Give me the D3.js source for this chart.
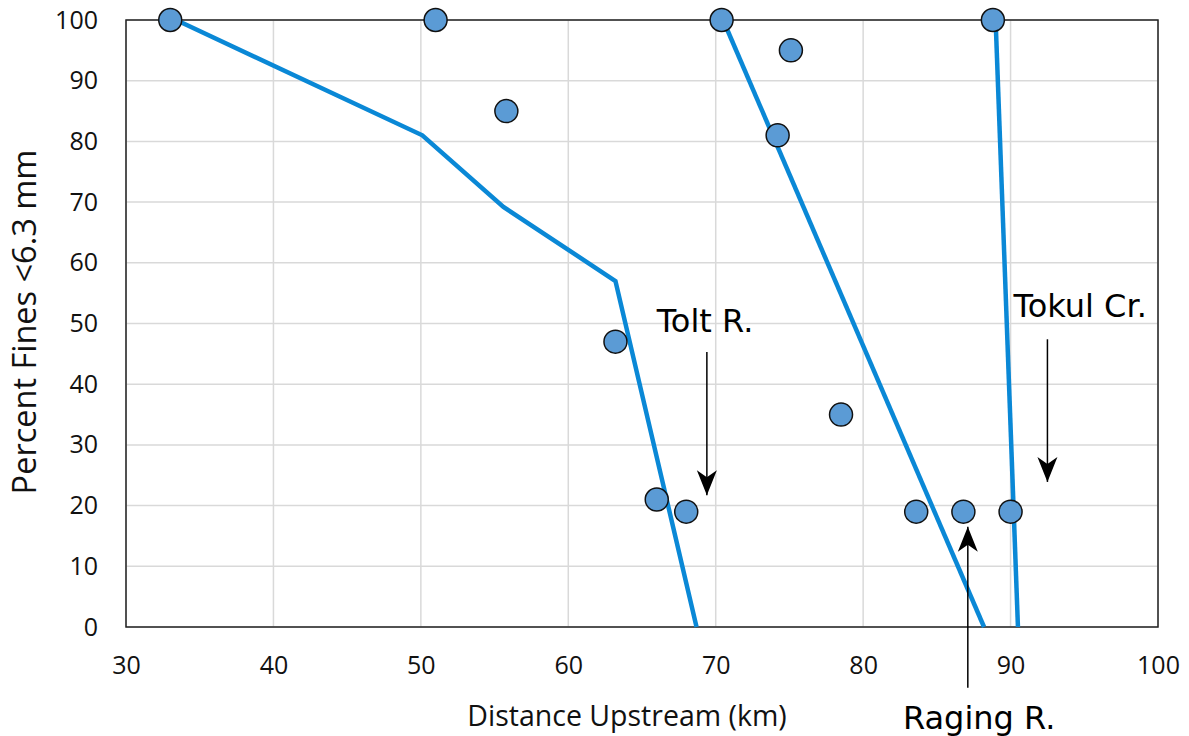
<!DOCTYPE html>
<html>
<head>
<meta charset="utf-8">
<script src="https://cdn.jsdelivr.net/npm/d3@7"></script>
<style>
  body { margin: 0; background: #fff; }
</style>
</head>
<body>
<div id="chart"></div>
<script>
// sample points: distance upstream (km) and percent fines
var pointX = [33.0, 51.0, 55.8, 63.2, 66.0, 68.0, 70.4, 75.1, 74.2, 78.5, 83.6, 86.8, 90.0, 88.8];
var pointY = [100, 100, 85, 47, 21, 19, 100, 95, 81, 35, 19, 19, 19, 100];

// fitted trend lines
var line1X = [33.4, 50.1, 55.6, 63.2, 68.7];
var line1Y = [100, 81, 69.2, 57, 0];
var line2X = [70.5, 88.2];
var line2Y = [100, 0];
var line3X = [89.0, 90.5];
var line3Y = [99, 0];

var xTicks = [30, 40, 50, 60, 70, 80, 90, 100];
var yTicks = [0, 10, 20, 30, 40, 50, 60, 70, 80, 90, 100];

// tributary labels with arrows (data units)
var labelNames = ["Tolt R.", "Tokul Cr.", "Raging R."];
var labelAt = [[66.0, 48.6], [90.2, 51.1], [82.7, -16.8]];
var arrowFrom = [[69.4, 45.3], [92.5, 47.4], [87.1, -10]];
var arrowTo = [[69.4, 21.7], [92.5, 23.9], [87.1, 16.5]];

var margin = { top: 20, right: 31, bottom: 109, left: 126 },
  width = 1189 - margin.left - margin.right,
  height = 736 - margin.top - margin.bottom;

var svg = d3.select("#chart")
  .append("svg")
  .attr("width", 1189)
  .attr("height", 736);

var chart = svg.append("g")
  .attr("transform", "translate(" + margin.left + "," + margin.top + ")");

var x = d3.scaleLinear().domain([30, 100]).range([0, width]);
var y = d3.scaleLinear().domain([0, 100]).range([height, 0]);

// gridlines
chart.append("g")
  .selectAll("line.vg")
  .data(xTicks)
  .enter().append("line")
  .attr("x1", function (d) { return x(d); })
  .attr("x2", function (d) { return x(d); })
  .attr("y1", 0).attr("y2", height)
  .attr("stroke", "#d9d9d9").attr("stroke-width", 1.5);
chart.append("g")
  .selectAll("line.hg")
  .data(yTicks)
  .enter().append("line")
  .attr("y1", function (d) { return y(d); })
  .attr("y2", function (d) { return y(d); })
  .attr("x1", 0).attr("x2", width)
  .attr("stroke", "#d9d9d9").attr("stroke-width", 1.5);

// frame
chart.append("rect")
  .attr("x", 0).attr("y", 0)
  .attr("width", width).attr("height", height)
  .attr("fill", "none")
  .attr("stroke", "#222").attr("stroke-width", 1.5);

// axes
var xAxis = chart.append("g")
  .attr("transform", "translate(0," + height + ")")
  .call(d3.axisBottom(x).tickValues(xTicks).tickSize(0).tickPadding(29));
var yAxis = chart.append("g")
  .call(d3.axisLeft(y).tickValues(yTicks).tickSize(0).tickPadding(28));
[xAxis, yAxis].forEach(function (a) {
  a.select(".domain").remove();
  a.selectAll("text")
    .attr("font-family", "'Open Sans', sans-serif")
    .attr("font-size", 25)
    .attr("fill", "#111");
});

// trend lines
var lineGen = d3.line()
  .x(function (d) { return x(d[0]); })
  .y(function (d) { return y(d[1]); });
[[line1X, line1Y], [line2X, line2Y], [line3X, line3Y]].forEach(function (l) {
  chart.append("path")
    .datum(l[0].map(function (v, i) { return [v, l[1][i]]; }))
    .attr("fill", "none")
    .attr("stroke", "#0a88d6")
    .attr("stroke-width", 4.5)
    .attr("d", lineGen);
});

// points
chart.selectAll("circle.pt")
  .data(pointX)
  .enter().append("circle")
  .attr("cx", function (d) { return x(d); })
  .attr("cy", function (d, i) { return y(pointY[i]); })
  .attr("r", 11.5)
  .attr("fill", "#5b9bd5")
  .attr("stroke", "#111")
  .attr("stroke-width", 1.5);

// annotations
labelNames.forEach(function (name, i) {
  chart.append("line")
    .attr("x1", x(arrowFrom[i][0])).attr("y1", y(arrowFrom[i][1]))
    .attr("x2", x(arrowTo[i][0])).attr("y2", y(arrowTo[i][1]))
    .attr("stroke", "#000").attr("stroke-width", 1.5);
  // arrow head oriented along line direction
  var dx = x(arrowTo[i][0]) - x(arrowFrom[i][0]);
  var dy = y(arrowTo[i][1]) - y(arrowFrom[i][1]);
  var ang = Math.atan2(dy, dx) * 180 / Math.PI - 90;
  chart.append("path")
    .attr("d", "M-10,-25 L0,-18 L10,-25 L0,0 Z")
    .attr("transform", "translate(" + x(arrowTo[i][0]) + "," + y(arrowTo[i][1]) + ") rotate(" + ang + ")")
    .attr("fill", "#000");
  chart.append("text")
    .attr("x", x(labelAt[i][0]))
    .attr("y", y(labelAt[i][1]))
    .attr("font-family", "'DejaVu Sans', sans-serif")
    .attr("font-size", 32)
    .attr("fill", "#000")
    .text(name);
});

// axis titles
svg.append("text")
  .attr("x", 627).attr("y", 726)
  .attr("text-anchor", "middle")
  .attr("font-family", "'Open Sans', sans-serif")
  .attr("font-size", 28.5)
  .attr("fill", "#111")
  .text("Distance Upstream (km)");

svg.append("text")
  .attr("transform", "translate(36,322) rotate(-90)")
  .attr("text-anchor", "middle")
  .attr("font-family", "'Open Sans', sans-serif")
  .attr("font-size", 32.5)
  .attr("fill", "#111")
  .text("Percent Fines <6.3 mm");
</script>
</body>
</html>
